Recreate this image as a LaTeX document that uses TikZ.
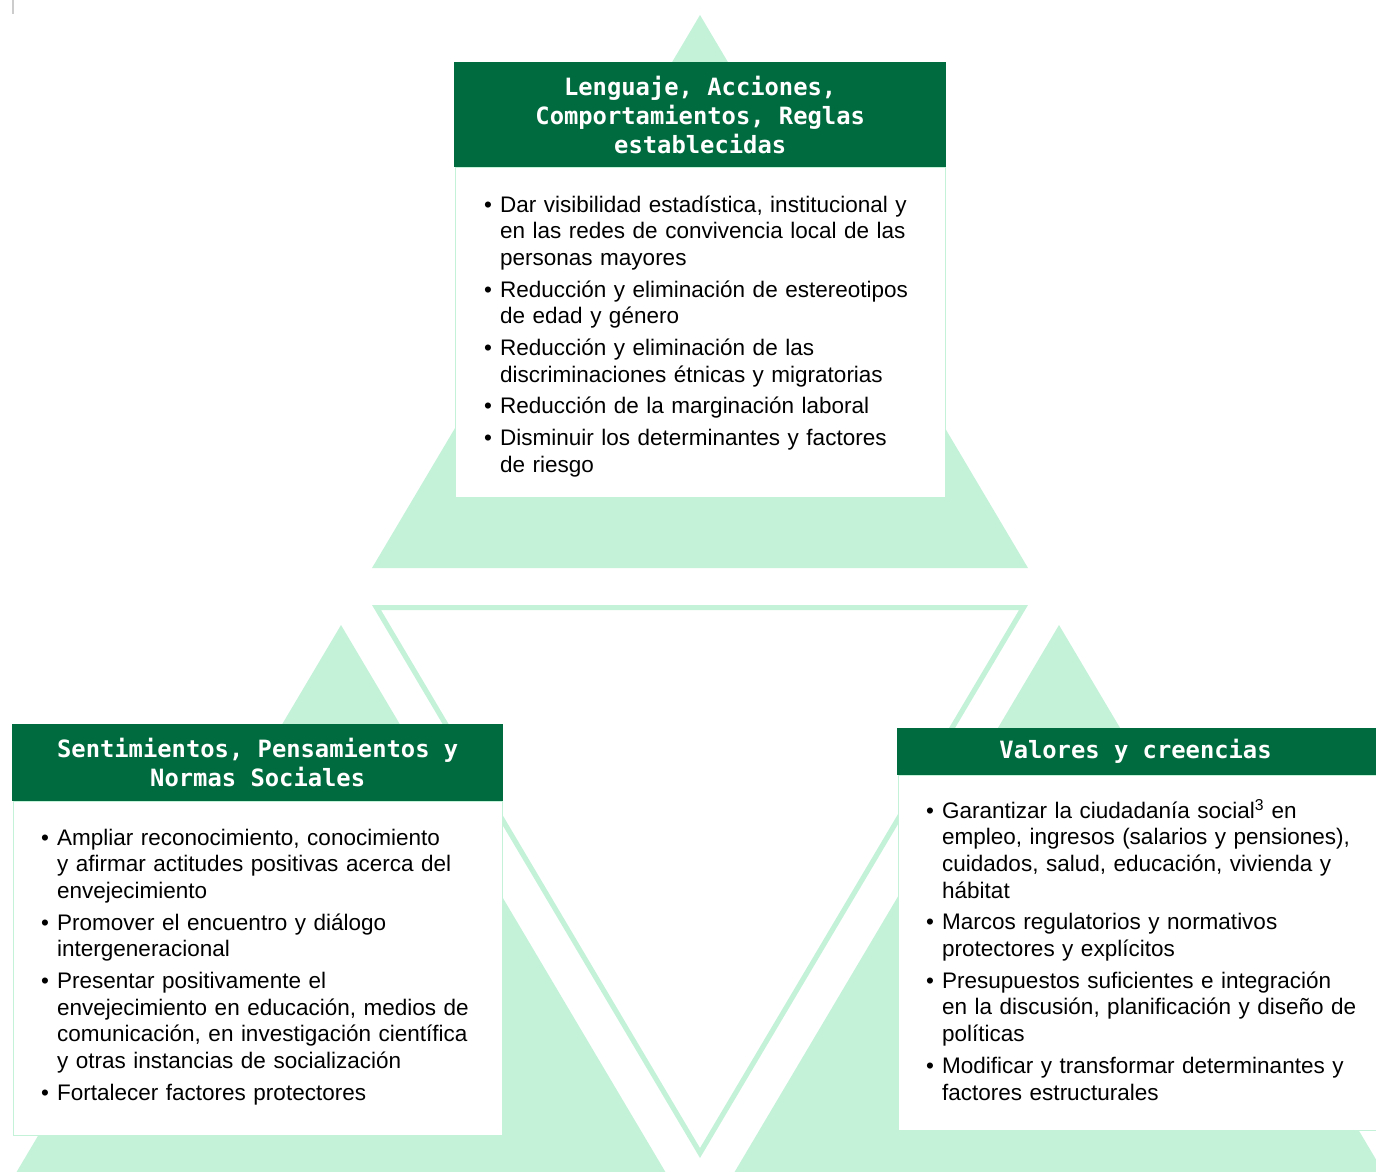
\documentclass[tikz,border=0pt]{standalone}
\usepackage{fontspec}
\setmainfont{Liberation Sans}
\newfontfamily\headfont{DejaVu Sans Mono}
\usepackage{tikz}
\usetikzlibrary{positioning}
\definecolor{dfgreen}{RGB}{0,107,63}
\definecolor{dfmint}{RGB}{196,242,217}
\tikzstyle{headbox} = [rectangle, inner sep=0pt, fill=dfgreen, text=white, align=center, font=\headfont\bfseries\fontsize{23.8}{29}\selectfont]
\tikzstyle{bodybox} = [rectangle, inner sep=0pt, fill=white, draw=dfmint, line width=1pt]
\tikzstyle{itemlist} = [inner sep=0pt, anchor=base west, text width=460pt, font=\fontsize{22.5}{26.7}\selectfont, execute at begin node={\raggedright\setlength{\parskip}{5pt}}]
\tikzstyle{tri} = [fill=dfmint]
\newcommand{\bul}{\hangindent=16pt\hangafter=1\noindent\makebox[16pt][l]{•}}

\begin{document}
\begin{tikzpicture}[x=1pt, y=-1pt]
\useasboundingbox (0,0) rectangle (1376,1172);
% background triangles
\begin{scope}
\clip (0,0) rectangle (1376,1172);
\fill[tri] (700,15) -- (372,568) -- (1028,568) -- cycle;
\fill[tri] (341,625) -- (13,1178) -- (669,1178) -- cycle;
\fill[tri] (1059,625) -- (731,1178) -- (1387,1178) -- cycle;
\fill[tri, even odd rule] (372,605) -- (1028,605) -- (700,1158) -- cycle
  (381,610) -- (1019,610) -- (700,1148) -- cycle;
\end{scope}
\draw[gray!40, line width=2pt] (13,0) -- (13,14);

% Top
\node[headbox, anchor=north west, minimum width=492pt, minimum height=105pt] (tophead) at (454,62) {
Lenguaje, Acciones,\\ Comportamientos, Reglas\\ establecidas
};
\node[bodybox, minimum width=490pt, minimum height=330pt, below=0pt of tophead] (topbody) {};
\node[itemlist] (toplist) at (484,212) {
\bul Dar visibilidad estadística, institucional y\newline en las redes de convivencia local de las\newline personas mayores\par
\bul Reducción y eliminación de estereotipos\newline de edad y género\par
\bul Reducción y eliminación de las\newline discriminaciones étnicas y migratorias\par
\bul Reducción de la marginación laboral\par
\bul Disminuir los determinantes y factores\newline de riesgo\par
};

% Left
\node[headbox, anchor=north west, minimum width=491pt, minimum height=77pt] (lefthead) at (12,724) {
Sentimientos, Pensamientos y\\ Normas Sociales
};
\node[bodybox, minimum width=489pt, minimum height=334pt, below=0pt of lefthead] (leftbody) {};
\node[itemlist] (leftlist) at (41,845) {
\bul Ampliar reconocimiento, conocimiento\newline y afirmar actitudes positivas acerca del\newline envejecimiento\par
\bul Promover el encuentro y diálogo\newline intergeneracional\par
\bul Presentar positivamente el\newline envejecimiento en educación, medios de\newline comunicación, en investigación científica\newline y otras instancias de socialización\par
\bul Fortalecer factores protectores\par
};

% Right
\node[headbox, anchor=north west, minimum width=491pt, minimum height=47pt] (righthead) at (897,728) {
Valores y creencias
};
\node[bodybox, minimum width=489pt, minimum height=355pt, below=0pt of righthead] (rightbody) {};
\node[itemlist] (rightlist) at (926,818) {
\bul Garantizar la ciudadanía social\textsuperscript{3} en\newline empleo, ingresos (salarios y pensiones),\newline cuidados, salud, educación, vivienda y\newline hábitat\par
\bul Marcos regulatorios y normativos\newline protectores y explícitos\par
\bul Presupuestos suficientes e integración\newline en la discusión, planificación y diseño de\newline políticas\par
\bul Modificar y transformar determinantes y\newline factores estructurales\par
};
\end{tikzpicture}
\end{document}
